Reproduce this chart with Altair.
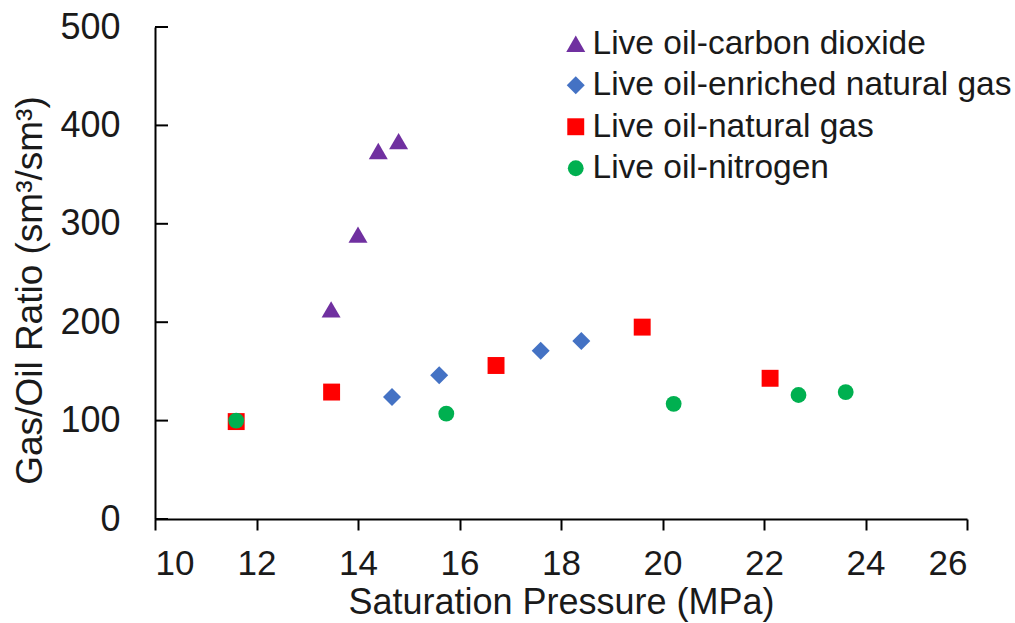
import altair as alt
import pandas as pd

# Series names (legend order) and their marker styles
series_names = [
    "Live oil-carbon dioxide",
    "Live oil-enriched natural gas",
    "Live oil-natural gas",
    "Live oil-nitrogen",
]
series_colors = ["#7030A0", "#4472C4", "#FF0000", "#00B050"]
series_shapes = ["triangle-up", "diamond", "square", "circle"]
series_sizes = [360, 250, 470, 440]

# Saturation pressure (MPa) and gas/oil ratio (sm3/sm3) per series
co2_p = [13.47, 14.0, 14.4, 14.8]
co2_gor = [213, 289, 374, 384]

eng_p = [14.67, 15.6, 17.6, 18.4]
eng_gor = [124, 146, 171, 181]

ng_p = [11.6, 13.48, 16.72, 19.6, 22.12]
ng_gor = [99, 129, 156, 195, 143]

n2_p = [11.6, 15.74, 20.22, 22.68, 23.61]
n2_gor = [100, 107, 117, 126, 129]

x_ticks = [10, 12, 14, 16, 18, 20, 22, 24, 26]
y_ticks = [0, 100, 200, 300, 400, 500]

rows = []
for name, ps, gs in zip(series_names,
                        [co2_p, eng_p, ng_p, n2_p],
                        [co2_gor, eng_gor, ng_gor, n2_gor]):
    for p, g in zip(ps, gs):
        rows.append({"series": name, "pressure": p, "gor": g})
points_df = pd.DataFrame(rows)
yticks_df = pd.DataFrame({"gor": y_ticks})

FONT = "Liberation Sans"
TEXT = "#1a1a1a"

x_scale = alt.Scale(domain=[10, 26], nice=False, zero=False)
y_scale = alt.Scale(domain=[0, 500], nice=False)

x_axis = alt.Axis(
    title="Saturation Pressure (MPa)",
    values=x_ticks,
    format="d",
    grid=False,
    tickSize=11,
    tickWidth=2,
    tickColor="black",
    domainColor="black",
    domainWidth=2,
    labelFontSize=35,
    labelFont=FONT,
    labelColor=TEXT,
    labelPadding=16,
    titleFontSize=36,
    titleFont=FONT,
    titleFontWeight="normal",
    titleColor=TEXT,
    titlePadding=4,
)

y_axis = alt.Axis(
    title="Gas/Oil Ratio (sm³/sm³)",
    values=y_ticks,
    grid=False,
    ticks=False,
    tickSize=0,
    domainColor="black",
    domainWidth=2,
    labelFontSize=36,
    labelFont=FONT,
    labelColor=TEXT,
    labelPadding=35,
    titleFontSize=37,
    titleFont=FONT,
    titleFontWeight="normal",
    titleColor=TEXT,
    titlePadding=10,
    titleY=263,
)

points = alt.Chart(points_df).mark_point(filled=True, opacity=1, strokeWidth=0).encode(
    x=alt.X("pressure:Q", scale=x_scale, axis=x_axis),
    y=alt.Y("gor:Q", scale=y_scale, axis=y_axis),
    color=alt.Color(
        "series:N",
        scale=alt.Scale(domain=series_names, range=series_colors),
        legend=alt.Legend(
            title=None,
            orient="none",
            legendX=404,
            legendY=0,
            labelFontSize=33.5,
            labelFont=FONT,
            labelColor=TEXT,
            labelOffset=0,
            labelLimit=0,
            rowPadding=6.5,
            symbolStrokeWidth=0,
            padding=0,
        ),
    ),
    shape=alt.Shape(
        "series:N",
        scale=alt.Scale(domain=series_names, range=series_shapes),
    ),
    size=alt.Size(
        "series:N",
        scale=alt.Scale(domain=series_names, range=series_sizes),
    ),
    order=alt.Order("idx:Q"),
).transform_calculate(
    idx="indexof(['%s'], datum.series)" % "','".join(series_names)
)

# Inward-pointing ticks along the y axis
y_tick_marks = alt.Chart(yticks_df).mark_rule(color="black", strokeWidth=2).encode(
    y=alt.Y("gor:Q", scale=y_scale, axis=y_axis),
    x=alt.value(0),
    x2=alt.value(13),
)

chart = alt.layer(y_tick_marks, points).properties(
    width=812,
    height=492,
    background="white",
    autosize=alt.AutoSizeParams(type="none"),
    padding={"left": 155, "top": 27, "right": 48, "bottom": 104},
).configure_view(stroke=None)

chart.save("out.html", embed_options={"renderer": "svg", "actions": False})
